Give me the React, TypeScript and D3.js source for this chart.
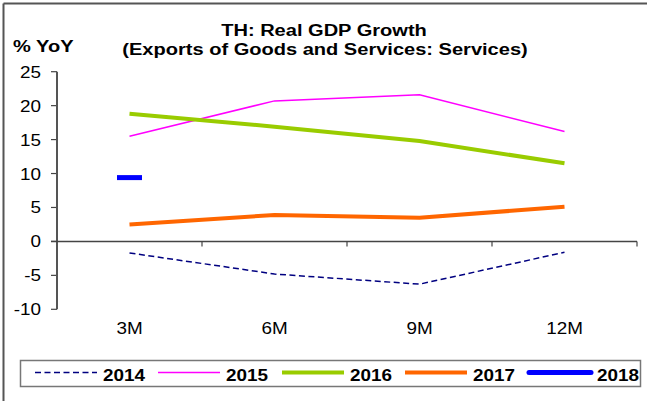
import React from "react";
import * as d3 from "d3";

const categories = ["3M", "6M", "9M", "12M"];
const s2014 = [-1.7, -4.8, -6.3, -1.6];
const s2015 = [15.5, 20.7, 21.6, 16.2];
const s2016 = [18.8, 16.9, 14.8, 11.5];
const s2017 = [2.5, 3.9, 3.5, 5.1];
const s2018 = [9.4, null, null, null];
const yTicks = [-10, -5, 0, 5, 10, 15, 20, 25];

const series = [
  { name: "2014", values: s2014, color: "#000080", width: 1.5, dash: "6,3.5" },
  { name: "2015", values: s2015, color: "#FF00FF", width: 1.5, dash: null },
  { name: "2016", values: s2016, color: "#99CC00", width: 4, dash: null },
  { name: "2017", values: s2017, color: "#FF6600", width: 4, dash: null },
  { name: "2018", values: s2018, color: "#0000FF", width: 5, dash: null },
];

const SX = 1.18;

function T(props: { x: number; y: number; size: number; bold?: boolean; anchor?: string; children: React.ReactNode }) {
  return (
    <text
      transform={`translate(${props.x},${props.y}) scale(${SX},1)`}
      fontSize={props.size}
      fontWeight={props.bold ? "bold" : "normal"}
      textAnchor={props.anchor || "start"}
    >
      {props.children}
    </text>
  );
}

export default function App() {
  const W = 647, H = 401;
  const left = 57, right = 637, top = 71.7, bottom = 309.3;
  const x = d3.scaleBand().domain(categories).range([left, right]);
  const y = d3.scaleLinear().domain([-10, 25]).range([bottom, top]);
  const font = "'Liberation Sans', Arial, sans-serif";
  const cx = (i: number) => (x(categories[i]) as number) + x.bandwidth() / 2;
  const line = d3
    .line<number | null>()
    .defined((d) => d != null)
    .x((_, i) => cx(i))
    .y((d) => y(d as number));

  const legendX = [35, 158, 282, 405, 529];

  return (
    <svg width={W} height={H} style={{ position: "absolute", left: 0, top: 0 }} fontFamily={font}>
      <rect x={0} y={0} width={W} height={H} fill="#fff" />
      <line x1={3.5} y1={3.5} x2={W} y2={3.5} stroke="#555" strokeWidth={2} />
      <line x1={3.5} y1={3.5} x2={3.5} y2={H} stroke="#555" strokeWidth={2} />

      <T x={324} y={36} size={17} bold anchor="middle">TH: Real GDP Growth</T>
      <T x={325} y={55} size={17} bold anchor="middle">(Exports of Goods and Services: Services)</T>
      <T x={13} y={52} size={17} bold>% YoY</T>

      {yTicks.map((t) => (
        <g key={t}>
          <line x1={51} x2={left} y1={y(t)} y2={y(t)} stroke="#444" strokeWidth={1.2} />
          <T x={41} y={y(t) + 6} size={16} anchor="end">{t}</T>
        </g>
      ))}
      <line x1={left} x2={left} y1={top} y2={bottom} stroke="#555" strokeWidth={2} />
      <line x1={51} x2={right} y1={y(0)} y2={y(0)} stroke="#444" strokeWidth={1.5} />
      {categories.map((c, i) => (
        <g key={c}>
          <line x1={(x(c) as number) + x.bandwidth()} x2={(x(c) as number) + x.bandwidth()} y1={y(0)} y2={y(0) + 5} stroke="#444" strokeWidth={1.2} />
          <T x={cx(i)} y={334} size={16} anchor="middle">{c}</T>
        </g>
      ))}

      {series.slice(0, 4).map((s) => (
        <path key={s.name} d={line(s.values) || ""} fill="none" stroke={s.color} strokeWidth={s.width} strokeDasharray={s.dash || undefined} />
      ))}
      {s2018.map((v, i) =>
        v == null ? null : (
          <line key={i} x1={cx(i) - 12.5} x2={cx(i) + 12.5} y1={y(v)} y2={y(v)} stroke="#0000FF" strokeWidth={5} />
        )
      )}

      <rect x={20.5} y={360.5} width={620} height={26} fill="#fff" stroke="#777" strokeWidth={1.5} />
      {series.map((s, i) => (
        <g key={s.name}>
          <line x1={legendX[i]} x2={legendX[i] + 62} y1={372.5} y2={372.5} stroke={s.color} strokeWidth={s.width} strokeDasharray={s.dash || undefined} strokeLinecap={s.name === "2018" ? "round" : "butt"} />
          <T x={legendX[i] + 68} y={381} size={16} bold>{s.name}</T>
        </g>
      ))}
    </svg>
  );
}
